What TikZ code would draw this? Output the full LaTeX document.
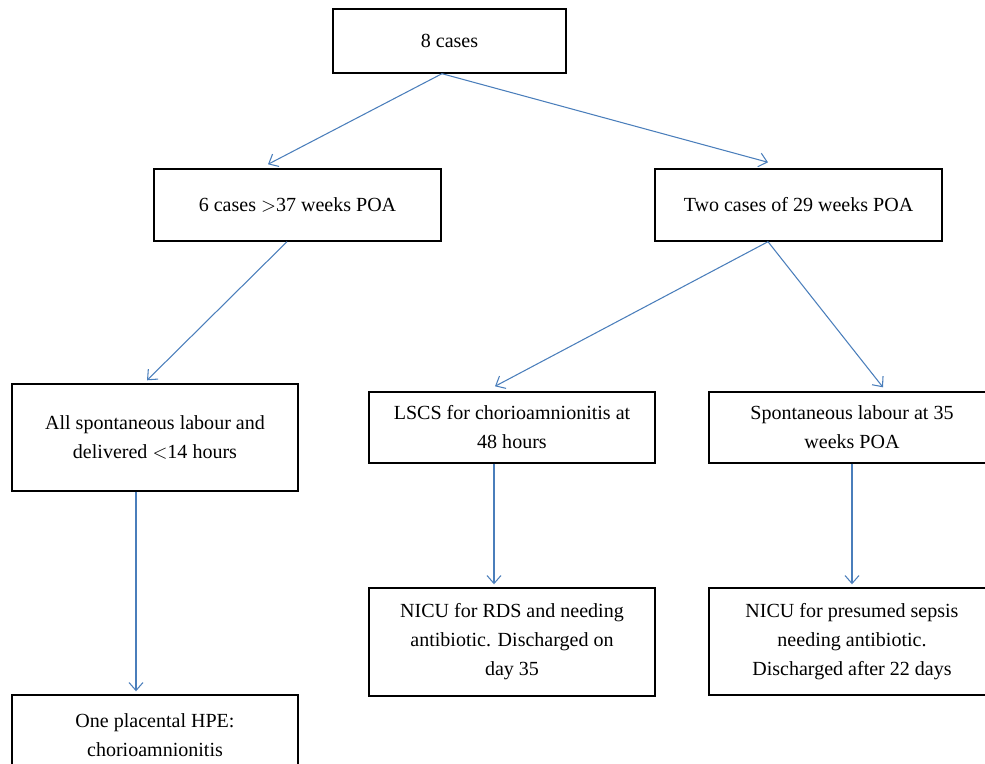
\documentclass[tikz,border=0pt]{standalone}
\usepackage{fontspec}
\setmainfont{Liberation Serif}
\usetikzlibrary{arrows.meta}
\definecolor{linkblue}{RGB}{74,126,187}

\begin{document}
\begin{tikzpicture}[x=0.02cm, y=-0.02cm,
	box/.style={draw=black, line width=0.8pt, align=center, inner sep=0pt,
		minimum width=5.72cm, font=\fontsize{11.4}{16.5}\selectfont},
	link/.style={linkblue, line width=0.6pt,
		-{Straight Barb[length=1.6mm, width=2.8mm]}}]

	\useasboundingbox (0, 0) rectangle (985, 764);
	\clip (0, 0) rectangle (985, 764);

	% Boxes

	\node [box, minimum width=4.66cm, minimum height=1.28cm] (cases) at (449.5, 41) {8 cases};

	\node [box, minimum width=5.74cm, minimum height=1.44cm] (six) at (297.5, 205) {6 cases $>$37 weeks POA};
	\node [box, minimum width=5.74cm, minimum height=1.44cm] (two) at (798.5, 205) {Two cases of 29 weeks POA};

	\node [box, minimum height=2.14cm] (allspont) at (155, 437.5) {All spontaneous labour and\\ delivered $<$14 hours};
	\node [box, minimum height=1.42cm] (lscs) at (512, 427.5) {LSCS for chorioamnionitis at\\ 48 hours};
	\node [box, minimum height=1.42cm] (spont) at (852, 427.5) {Spontaneous labour at 35\\ weeks POA};

	\node [box, minimum height=2.16cm] (nicurds) at (512, 642) {NICU for RDS and needing\\ antibiotic. Discharged on\\ day 35};
	\node [box, minimum height=2.14cm] (nicusep) at (852, 641.5) {NICU for presumed sepsis\\ needing antibiotic.\\ Discharged after 22 days};

	\node [box, minimum height=1.6cm] (hpe) at (155, 735) {One placental HPE:\\ chorioamnionitis};

	% Arrows

	\draw [link] ([xshift=-0.15cm]cases.south) -- ([xshift=-0.59cm, yshift=0.08cm]six.north);
	\draw [link] ([xshift=-0.15cm]cases.south) -- ([xshift=-0.61cm, yshift=0.12cm]two.north);

	\draw [link] ([xshift=-0.21cm]six.south) -- ([xshift=-0.16cm, yshift=0.06cm]allspont.north);
	\draw [link] ([xshift=-0.61cm]two.south) -- ([xshift=-0.34cm, yshift=0.1cm]lscs.north);
	\draw [link] ([xshift=-0.61cm]two.south) -- ([xshift=0.62cm, yshift=0.08cm]spont.north);

	\draw [link] ([xshift=-0.38cm]allspont.south) -- ([xshift=-0.38cm, yshift=0.06cm]hpe.north);
	\draw [link] ([xshift=-0.36cm]lscs.south) -- ([xshift=-0.36cm, yshift=0.06cm]nicurds.north);
	\draw [link] (spont.south) -- ([yshift=0.06cm]nicusep.north);

\end{tikzpicture}
\end{document}
